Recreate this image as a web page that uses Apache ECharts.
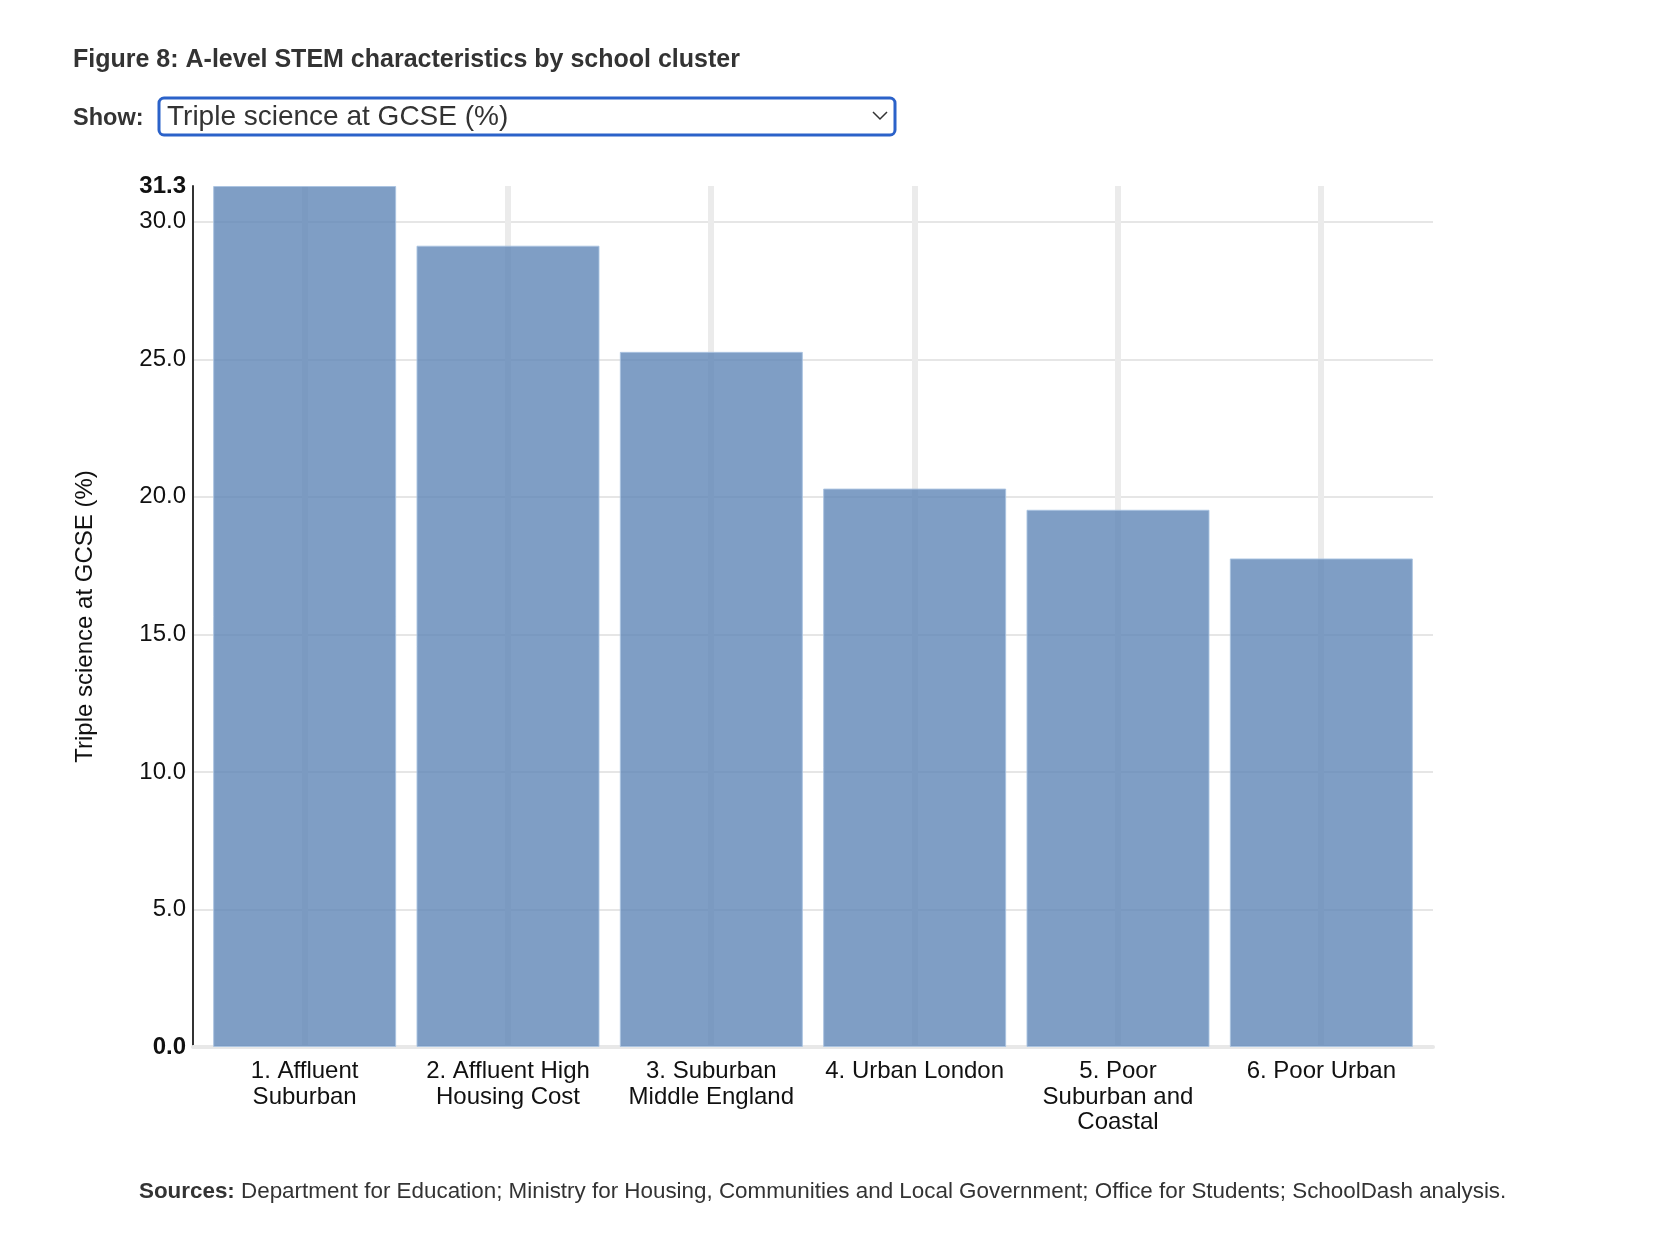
<!DOCTYPE html>
<html>
<head>
<meta charset="utf-8">
<script src="https://cdn.jsdelivr.net/npm/echarts@6/dist/echarts.min.js"></script>
<style>
html,body{margin:0;padding:0;background:#fff;}
#chart{width:1662px;height:1246px;}
</style>
</head>
<body>
<div id="chart"></div>
<script>
var categories = ['1. Affluent\nSuburban', '2. Affluent High\nHousing Cost', '3. Suburban\nMiddle England', '4. Urban London', '5. Poor\nSuburban and\nCoastal', '6. Poor Urban'];
var values = [31.3, 29.13, 25.27, 20.30, 19.53, 17.76];
var yMax = 31.3;
var yInterval = 5;
var titleText = 'Figure 8: A-level STEM characteristics by school cluster';
var selectLabel = 'Show:';
var selectText = 'Triple science at GCSE (%)';
var yAxisName = 'Triple science at GCSE (%)';
var sourcesText = 'Department for Education; Ministry for Housing, Communities and Local Government; Office for Students; SchoolDash analysis.';

var FONT = '"Liberation Sans", Arial, Helvetica, sans-serif';
var TOP = 186, BOTTOM = 1246 - 1047;

var chart = echarts.init(document.getElementById('chart'));
var option = {
  backgroundColor: '#fff',
  animation: false,
  textStyle: { fontFamily: FONT },
  title: {
    left: 134, top: 1176,
    text: '{b|Sources:} ' + sourcesText,
    textStyle: {
      fontFamily: FONT, fontSize: 22.4, fontWeight: 'normal', color: '#333',
      rich: { b: { fontFamily: FONT, fontSize: 22.4, fontWeight: 'bold', color: '#333' } }
    }
  },
  graphic: [
    { type: 'text', left: 73, top: 48, style: { text: titleText, font: 'bold 25px ' + FONT, fill: '#333' } },
    { type: 'text', left: 73, top: 107, style: { text: selectLabel, font: 'bold 23.5px ' + FONT, fill: '#333' } },
    { type: 'rect', shape: { x: 159, y: 98, width: 736, height: 37, r: 5 },
      style: { fill: '#fff', stroke: '#2b62c9', lineWidth: 3 } },
    { type: 'text', left: 167, top: 103, style: { text: selectText, font: '28px ' + FONT, fill: '#333' } },
    { type: 'polyline', shape: { points: [[873, 112], [880, 119], [887, 112]] },
      style: { stroke: '#333', lineWidth: 1.5, fill: null } }
  ],
  grid: [
    { left: 193, right: 229, top: TOP, bottom: BOTTOM },
    { left: 304.5, right: 341, top: TOP, bottom: BOTTOM },
    { left: 203, right: 239, top: TOP, bottom: BOTTOM }
  ],
  xAxis: [
    { type: 'value', gridIndex: 0, min: 0, max: 1,
      axisLine: { show: true, onZero: false, lineStyle: { color: '#e8e8e8', width: 4 } },
      axisTick: { show: false }, axisLabel: { show: false }, splitLine: { show: false } },
    { type: 'category', gridIndex: 1, data: categories, boundaryGap: false,
      axisLine: { show: false }, axisTick: { show: false }, axisLabel: { show: false },
      splitLine: { show: true, lineStyle: { color: '#ebebeb', width: 6 } } },
    { type: 'category', gridIndex: 2, data: categories,
      axisLine: { show: false }, axisTick: { show: false },
      axisLabel: { show: true, interval: 0, margin: 12, fontSize: 24, lineHeight: 25.5, color: '#111', fontFamily: FONT },
      splitLine: { show: false } }
  ],
  yAxis: [
    { type: 'value', gridIndex: 0, min: 0, max: yMax, interval: yInterval,
      name: yAxisName, nameLocation: 'middle', nameGap: 96, nameRotate: 90,
      nameTextStyle: { fontSize: 24, color: '#111', fontFamily: FONT },
      axisLine: { show: true, lineStyle: { color: '#333', width: 2 } },
      axisTick: { show: false },
      axisLabel: { margin: 7, fontSize: 24, color: '#111', fontFamily: FONT,
        formatter: function (v) {
          var s = v.toFixed(1);
          if (v === 0 || Math.abs(v - yMax) < 1e-9) return '{b|' + s + '}';
          return s;
        },
        rich: { b: { fontWeight: 'bold', fontSize: 24, color: '#111', fontFamily: FONT } }
      },
      splitLine: { show: true, showMinLine: false, showMaxLine: false, lineStyle: { color: '#e6e6e6', width: 2 } } },
    { type: 'value', gridIndex: 1, min: 0, max: yMax, show: false, splitLine: { show: false } },
    { type: 'value', gridIndex: 2, min: 0, max: yMax, show: false, splitLine: { show: false } }
  ],
  series: [
    { type: 'bar', xAxisIndex: 2, yAxisIndex: 2, data: values, barCategoryGap: '10%',
      itemStyle: { color: 'rgba(95,134,182,0.8)', borderColor: 'rgba(170,195,225,0.9)', borderWidth: 1 },
      silent: true }
  ]
};
chart.setOption(option);
</script>
</body>
</html>
